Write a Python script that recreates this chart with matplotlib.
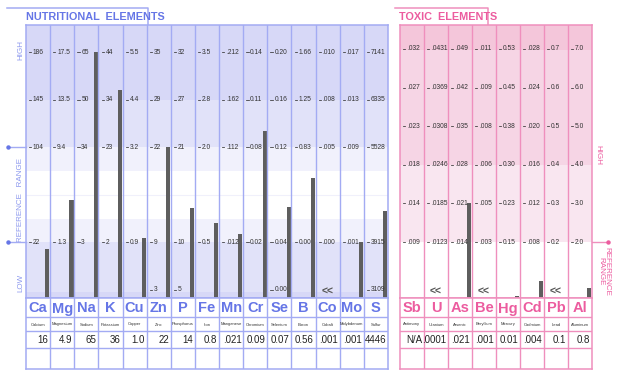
import numpy as np
import matplotlib.pyplot as plt

# nutritional elements
nut_symbols = ["Ca", "Mg", "Na", "K", "Cu", "Zn", "P", "Fe", "Mn", "Cr", "Se", "B", "Co", "Mo", "S"]
nut_names = ["Calcium", "Magnesium", "Sodium", "Potassium", "Copper", "Zinc", "Phosphorus", "Iron",
             "Manganese", "Chromium", "Selenium", "Boron", "Cobalt", "Molybdenum", "Sulfur"]
nut_values = ["16", "4.9", "65", "36", "1.0", "22", "14", "0.8", ".021", "0.09", "0.07", "0.56",
              ".001", ".001", "4446"]
nut_below = ["Co"]
nut_ticks = [
    ["186", "145", "104", "22"],
    ["17.5", "13.5", "9.4", "1.3"],
    ["65", "50", "34", "3"],
    ["44", "34", "23", "2"],
    ["5.5", "4.4", "3.2", "0.9"],
    ["35", "29", "22", "9", "3"],
    ["32", "27", "21", "10", "5"],
    ["3.5", "2.8", "2.0", "0.5"],
    [".212", ".162", ".112", ".012"],
    ["0.14", "0.11", "0.08", "0.02"],
    ["0.20", "0.16", "0.12", "0.04", "0.00"],
    ["1.66", "1.25", "0.83", "0.00"],
    [".010", ".008", ".005", ".000"],
    [".017", ".013", ".009", ".001"],
    ["7141", "6335", "5528", "3915", "3109"],
]
nut_levels = [5, 4, 3, 1, 0]

# toxic elements
tox_symbols = ["Sb", "U", "As", "Be", "Hg", "Cd", "Pb", "Al"]
tox_names = ["Antimony", "Uranium", "Arsenic", "Beryllium", "Mercury", "Cadmium", "Lead", "Aluminum"]
tox_values = ["N/A", ".0001", ".021", ".001", "0.01", ".004", "0.1", "0.8"]
tox_below = ["U", "Be", "Pb"]
tox_ticks = [
    [".032", ".027", ".023", ".018", ".014", ".009"],
    [".0431", ".0369", ".0308", ".0246", ".0185", ".0123"],
    [".049", ".042", ".035", ".028", ".021", ".014"],
    [".011", ".009", ".008", ".006", ".005", ".003"],
    ["0.53", "0.45", "0.38", "0.30", "0.23", "0.15"],
    [".028", ".024", ".020", ".016", ".012", ".008"],
    ["0.7", "0.6", "0.5", "0.4", "0.3", "0.2"],
    ["7.0", "6.0", "5.0", "4.0", "3.0", "2.0"],
]
tox_levels = [5, 4, 3, 2, 1, 0]

NARROW = ["Liberation Sans Narrow", "Liberation Sans"]
SANS = ["Liberation Sans", "DejaVu Sans"]
W, H = 617, 380


def to_level(v, ticks, levels):
    t = np.array([float(s) for s in ticks])[::-1]
    lv = np.array(levels[:len(ticks)], dtype=float)[::-1]
    if v < t[0]:
        return lv[0] + (v - t[0]) * (lv[1] - lv[0]) / (t[1] - t[0])
    if v > t[-1]:
        return lv[-1] + (v - t[-1]) * (lv[-1] - lv[-2]) / (t[-1] - t[-2])
    return float(np.interp(v, t, lv))


def px_axes(fig, x0, y0, x1, y1):
    return fig.add_axes([x0 / W, 1 - y1 / H, (x1 - x0) / W, (y1 - y0) / H])


def panel(fig, x0, x1, symbols, names, values, below, ticks, levels, ylim, bands,
          line_c, sym_c):
    n = len(symbols)
    ax = px_axes(fig, x0, 25, x1, 298)
    ax.set_xlim(0, n)
    ax.set_ylim(*ylim)
    for lo, hi, c in bands:
        ax.axhspan(lo, hi, color=c, lw=0, zorder=0)
    for i in range(n):
        for lab, lv in zip(ticks[i], levels):
            ax.plot([i + 0.13, i + 0.22], [lv, lv], color="#333333", lw=0.55, zorder=3)
            ax.text(i + 0.29, lv, lab, fontsize=4.8, va="center", ha="left",
                    color="#333333", family=SANS, zorder=3)
        if symbols[i] in below:
            ax.text(i + 0.5, ylim[0] + 0.13 * (ylim[1] - ylim[0]) / 5.7, "<<", fontsize=7.5,
                    fontweight="bold", ha="center", va="center", color="#555555",
                    family=SANS, zorder=3)
            continue
        if values[i] == "N/A":
            continue
        lv = to_level(float(values[i]), ticks[i], levels)
        h = max(lv - ylim[0], 0.04)
        ax.bar(i + 0.885, h, bottom=ylim[0], width=0.17, color="#5e5e5e", zorder=2)
    for i in range(1, n):
        ax.axvline(i, color=line_c, lw=1.0, zorder=4)
    ax.set_xticks([])
    ax.set_yticks([])
    for s in ax.spines.values():
        s.set_color(line_c)
        s.set_linewidth(1.1)
        s.set_zorder(5)

    tb = px_axes(fig, x0, 298, x1, 369)
    tb.set_xlim(0, n)
    tb.set_ylim(71, 0)
    tb.set_facecolor("white")
    for y in [19, 33, 50]:
        tb.axhline(y, color=line_c, lw=1.0)
    for i in range(1, n):
        tb.axvline(i, color=line_c, lw=1.0)
    for i in range(n):
        tb.text(i + 0.5, 10.5, symbols[i], fontsize=10.5, fontweight="bold", ha="center",
                va="center", color=sym_c, family=NARROW)
        tb.text(i + 0.5, 26.5, names[i], fontsize=3.0, ha="center", va="center",
                color="#333333", family=SANS)
        tb.text(i + 0.93, 42, values[i], fontsize=7, ha="right", va="center",
                color="#222222", family=SANS)
    tb.set_xticks([])
    tb.set_yticks([])
    for s in tb.spines.values():
        s.set_color(line_c)
        s.set_linewidth(1.1)
    return ax


fig = plt.figure(figsize=(W / 100, H / 100), dpi=100)
deco = fig.add_axes([0, 0, 1, 1])
deco.set_xlim(0, W)
deco.set_ylim(H, 0)
deco.axis("off")

blue_line = "#a3abf3"
blue_txt = "#6676e6"
pink_line = "#ef8fbd"
pink_txt = "#ec5c9f"

# title tabs
deco.plot([7, 148, 148], [8, 8, 25], color=blue_line, lw=1.1)
deco.text(26, 17, "NUTRITIONAL  ELEMENTS", fontsize=7.8, fontweight="bold", color=blue_txt,
          va="center", ha="left", family=NARROW)
deco.plot([395, 488, 488], [8, 8, 25], color=pink_line, lw=1.1)
deco.text(399, 17, "TOXIC  ELEMENTS", fontsize=7.8, fontweight="bold", color=pink_txt,
          va="center", ha="left", family=NARROW)

nut_ylim = (-0.17, 5.57)
nut_bands = [(4, 6, "#d7d8f7"), (3, 4, "#e1e2f9"), (2.5, 3, "#f1f1fc"), (1.5, 2.5, "white"),
             (1, 1.5, "#f1f1fc"), (-0.04, 1, "#e1e2f9"), (-1, -0.04, "#d7d8f7")]
ax1 = panel(fig, 26, 388, nut_symbols, nut_names, nut_values, nut_below, nut_ticks, nut_levels,
            nut_ylim, nut_bands, blue_line, blue_txt)
ax1.axhline(2, color="#f0f0fb", lw=0.8, zorder=1)

tox_ylim = (-1.45, 5.62)
tox_bands = [(4.97, 6, "#f4c6da"), (2, 4.97, "#f6d5e5"), (0, 2, "#f9e6f0"), (-2, 0, "white")]
ax2 = panel(fig, 400, 592, tox_symbols, tox_names, tox_values, tox_below, tox_ticks, tox_levels,
            tox_ylim, tox_bands, pink_line, pink_txt)

# side labels and reference markers
for lv in [3, 1]:
    ax1.plot([-0.75, 0], [lv, lv], color=blue_line, lw=1.0, clip_on=False, zorder=6)
    ax1.plot([-0.75], [lv], "o", color=blue_txt, ms=2.2, clip_on=False, zorder=6)
ax2.plot([8, 8.67], [0, 0], color=pink_line, lw=1.0, clip_on=False, zorder=6)
ax2.plot([8.67], [0], "o", color=pink_txt, ms=2.2, clip_on=False, zorder=6)

side_blue = "#8c98ee"
deco.text(21, 50, "HIGH", rotation=90, fontsize=5.8, color=side_blue, ha="center", va="center",
          family=SANS)
deco.text(21, 200, "REFERENCE   RANGE", rotation=90, fontsize=5.8, color=side_blue,
          ha="center", va="center", family=SANS)
deco.text(21, 283, "LOW", rotation=90, fontsize=5.8, color=side_blue, ha="center", va="center",
          family=SANS)
deco.text(598, 155, "HIGH", rotation=270, fontsize=5.8, color=pink_txt, ha="center",
          va="center", family=SANS)
deco.text(604, 271, "REFERENCE\nRANGE", rotation=270, fontsize=5.8, color=pink_txt,
          ha="center", va="center", family=SANS, linespacing=0.9)

fig.savefig("out.png", dpi=100)
